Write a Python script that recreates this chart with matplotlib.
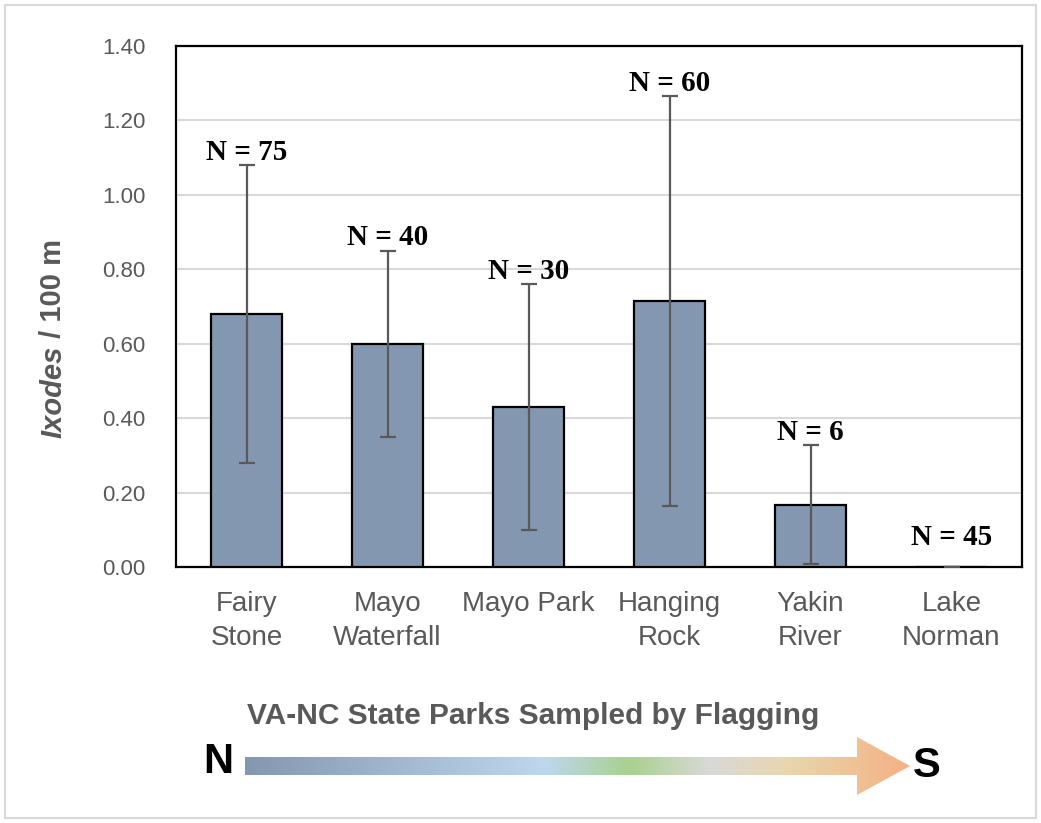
import numpy as np
import matplotlib
matplotlib.use("Agg")
import matplotlib.pyplot as plt
from matplotlib.colors import LinearSegmentedColormap
from matplotlib.patches import Polygon, Rectangle

# ---------------------------
# Data
# ---------------------------
PARKS = ["Fairy\nStone", "Mayo\nWaterfall", "Mayo Park", "Hanging\nRock", "Yakin\nRiver", "Lake\nNorman"]
TICKS_PER_100M = [0.68, 0.60, 0.43, 0.715, 0.167, 0.0]
ERR = [0.40, 0.25, 0.33, 0.55, 0.16, 0.0]
N_SAMPLES = [75, 40, 30, 60, 6, 45]
Y_TICKS = [0.0, 0.2, 0.4, 0.6, 0.8, 1.0, 1.2, 1.4]

BAR_COL = "#8497B0"
GRAY_TXT = "#595959"
GRID_COL = "#D9D9D9"

W, H = 1041, 823

plt.rcParams.update({
    "font.family": ["Liberation Sans", "DejaVu Sans"],
    "figure.dpi": 100,
})

fig = plt.figure(figsize=(W / 100, H / 100), dpi=100)
fig.patch.set_facecolor("white")

ax = fig.add_axes([176 / W, 1 - 567 / H, (1022 - 176) / W, (567 - 46) / H])

x = np.arange(len(PARKS))
ax.bar(x, TICKS_PER_100M, width=0.5, color=BAR_COL, edgecolor="black", linewidth=1.6, zorder=3)
ax.errorbar(x, TICKS_PER_100M, yerr=ERR, fmt="none", ecolor=GRAY_TXT, elinewidth=1.6,
            capsize=6, capthick=1.6, zorder=4)

for xi, v, e, n in zip(x, TICKS_PER_100M, ERR, N_SAMPLES):
    y = max(v + e + 0.015, 0.06)
    ax.text(xi, y, f"N = {n}", ha="center", va="baseline", fontsize=21,
            fontweight="bold", family=["Liberation Serif", "DejaVu Serif"], zorder=5)

ax.set_xlim(-0.5, len(PARKS) - 0.5)
ax.set_ylim(0, 1.4)
ax.set_yticks(Y_TICKS)
ax.set_yticklabels([f"{t:.2f}" for t in Y_TICKS])
ax.set_xticks(x)
ax.set_xticklabels(PARKS, linespacing=1.4)
ax.tick_params(axis="y", length=0, pad=22, labelsize=16, labelcolor=GRAY_TXT)
ax.tick_params(axis="x", length=0, pad=17, labelsize=20, labelcolor=GRAY_TXT)
ax.grid(axis="y", color=GRID_COL, linewidth=1.5, zorder=0)
ax.set_axisbelow(True)
for s in ax.spines.values():
    s.set_color("black")
    s.set_linewidth(1.6)

# y label with italic genus name
t1 = fig.text(53 / W, 1 - 438 / H, "Ixodes", rotation=90, ha="center", va="bottom",
              fontsize=21, fontweight="bold", fontstyle="italic", color=GRAY_TXT)
fig.canvas.draw()
ax.annotate(" / 100 m", xy=(0.5, 1.0), xycoords=t1, ha="center", va="bottom",
            rotation=90, fontsize=21, fontweight="bold", color=GRAY_TXT,
            annotation_clip=False)

# x-axis title
fig.text(533 / W, 1 - 716 / H, "VA-NC State Parks Sampled by Flagging", ha="center",
         va="center", fontsize=21.5, fontweight="bold", color=GRAY_TXT)

# N -> S gradient arrow
ov = fig.add_axes([0, 0, 1, 1], zorder=-1)
ov.set_xlim(0, W)
ov.set_ylim(H, 0)
ov.axis("off")
ov.patch.set_alpha(0)

cmap = LinearSegmentedColormap.from_list(
    "ns",
    [(0.0, "#8497B0"), (0.45, "#BDD7EE"), (0.58, "#A9D18E"), (0.70, "#D9D9D9"),
     (0.82, "#E9D6AC"), (1.0, "#F4B183")],
)
x0, x1, xh = 245, 910, 857
y_mid, shaft_h, head_h = 766, 9, 29
arrow = Polygon(
    [(x0, y_mid - shaft_h), (xh, y_mid - shaft_h), (xh, y_mid - head_h), (x1, y_mid),
     (xh, y_mid + head_h), (xh, y_mid + shaft_h), (x0, y_mid + shaft_h)],
    closed=True, facecolor="none", edgecolor="none",
)
ov.add_patch(arrow)
grad = np.linspace(0, 1, 512).reshape(1, -1)
im = ov.imshow(grad, cmap=cmap, aspect="auto", extent=(x0, x1, y_mid + head_h, y_mid - head_h))
im.set_clip_path(arrow)

ov.text(218, 762, "N", ha="center", va="center", fontsize=30, fontweight="bold", color="black")
ov.text(927, 766, "S", ha="center", va="center", fontsize=30, fontweight="bold", color="black")

# light outer border
ov.add_patch(Rectangle((5, 5), W - 10, H - 10, fill=False, edgecolor=GRID_COL, linewidth=1.5))

fig.savefig("out.png", dpi=100, facecolor="white")
